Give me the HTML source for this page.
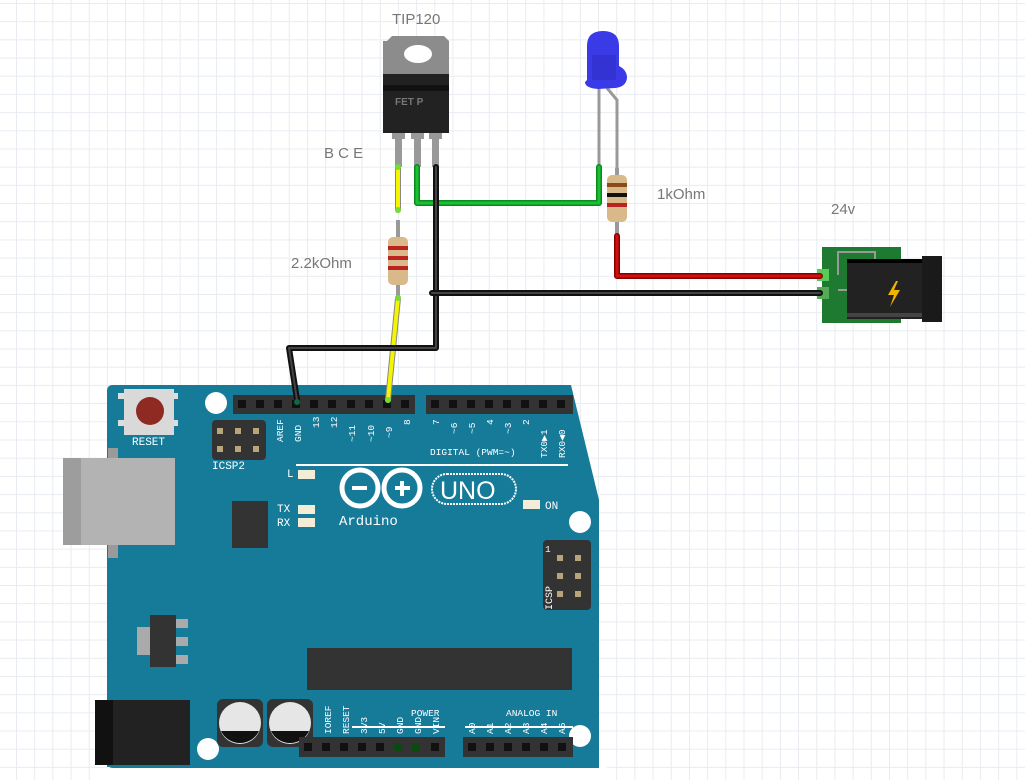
<!DOCTYPE html>
<html><head><style>
html,body{margin:0;padding:0;}
body{width:1025px;height:780px;overflow:hidden;background:#fff;
background-image:linear-gradient(to right,#e8ecf1 1px,transparent 1px),linear-gradient(to bottom,#e8ecf1 1px,transparent 1px);
background-size:18.2px 18.2px;background-position:16px 3px;}
svg{position:absolute;left:0;top:0;}
text{font-family:"Liberation Sans",sans-serif;}
.m{font-family:"Liberation Mono",monospace;fill:#fff;font-size:9.5px;}
</style></head><body>
<svg width="1025" height="780" viewBox="0 0 1025 780">
<!-- Arduino board -->
<path d="M113 385 L571 385 L599 500 L599 780 L107 780 L107 391 Q107 385 113 385Z" fill="#167a99"/>
<rect x="107" y="767" width="500" height="13" fill="#fff"/>
<path d="M107 762 Q107 768 113 768 L599 768 L599 762Z" fill="#167a99"/>
<!-- USB -->
<rect x="108" y="448" width="10" height="110" fill="#9a9a9a"/>
<rect x="63" y="458" width="112" height="87" fill="#b3b3b3"/>
<rect x="63" y="458" width="18" height="87" fill="#9d9d9d"/>
<!-- reset -->
<rect x="118" y="393" width="6" height="6" fill="#ddd"/><rect x="118" y="420" width="6" height="6" fill="#ddd"/>
<rect x="172" y="393" width="6" height="6" fill="#ddd"/><rect x="172" y="420" width="6" height="6" fill="#ddd"/>
<rect x="124" y="389" width="50" height="46" fill="#d9d9d9"/>
<circle cx="150" cy="411" r="14" fill="#8e2a22"/>
<text x="132" y="445" class="m" style="font-size:11px">RESET</text>
<!-- ICSP2 -->
<rect x="212" y="420" width="54" height="40" rx="4" fill="#333"/>
<g fill="#b8a57a"><rect x="217" y="428" width="6" height="6"/><rect x="235" y="428" width="6" height="6"/><rect x="253" y="428" width="6" height="6"/><rect x="217" y="446" width="6" height="6"/><rect x="235" y="446" width="6" height="6"/><rect x="253" y="446" width="6" height="6"/></g>
<text x="212" y="469" class="m" style="font-size:11px">ICSP2</text>
<!-- holes -->
<g fill="#fff"><circle cx="216" cy="403" r="11"/><circle cx="580" cy="522" r="11"/><circle cx="580" cy="736" r="11"/><circle cx="208" cy="749" r="11"/></g>
<!-- headers -->
<rect x="233" y="395" width="182" height="19" fill="#333"/>
<rect x="426" y="395" width="147" height="19" fill="#333"/>
<g fill="#111">
<rect x="238" y="400" width="8" height="8"/><rect x="256" y="400" width="8" height="8"/><rect x="274" y="400" width="8" height="8"/><rect x="292" y="400" width="8" height="8"/><rect x="310" y="400" width="8" height="8"/><rect x="328" y="400" width="8" height="8"/><rect x="347" y="400" width="8" height="8"/><rect x="365" y="400" width="8" height="8"/><rect x="383" y="400" width="8" height="8"/><rect x="401" y="400" width="8" height="8"/>
<rect x="431" y="400" width="8" height="8"/><rect x="449" y="400" width="8" height="8"/><rect x="467" y="400" width="8" height="8"/><rect x="485" y="400" width="8" height="8"/><rect x="503" y="400" width="8" height="8"/><rect x="521" y="400" width="8" height="8"/><rect x="539" y="400" width="8" height="8"/><rect x="557" y="400" width="8" height="8"/>
</g>
<g>
<text transform="translate(283,442) rotate(-90)" class="m">AREF</text>
<text transform="translate(301,442) rotate(-90)" class="m">GND</text>
<text transform="translate(319,428) rotate(-90)" class="m">13</text>
<text transform="translate(337,428) rotate(-90)" class="m">12</text>
<text transform="translate(355,442) rotate(-90)" class="m">~11</text>
<text transform="translate(374,442) rotate(-90)" class="m">~10</text>
<text transform="translate(392,438) rotate(-90)" class="m">~9</text>
<text transform="translate(410,425) rotate(-90)" class="m">8</text>
<text transform="translate(439,425) rotate(-90)" class="m">7</text>
<text transform="translate(457,434) rotate(-90)" class="m">~6</text>
<text transform="translate(475,434) rotate(-90)" class="m">~5</text>
<text transform="translate(493,425) rotate(-90)" class="m">4</text>
<text transform="translate(511,434) rotate(-90)" class="m">~3</text>
<text transform="translate(529,425) rotate(-90)" class="m">2</text>
<text transform="translate(547,458) rotate(-90)" class="m">TX0▶1</text>
<text transform="translate(565,458) rotate(-90)" class="m">RX0◀0</text>
</g>
<text x="430" y="455" class="m">DIGITAL (PWM=~)</text>
<rect x="296" y="464" width="272" height="2" fill="#fff"/>
<!-- LEDs -->
<text x="287" y="477" class="m" style="font-size:11px">L</text>
<text x="277" y="512" class="m" style="font-size:11px">TX</text>
<text x="277" y="526" class="m" style="font-size:11px">RX</text>
<g fill="#f3ecd6"><rect x="298" y="470" width="17" height="9"/><rect x="298" y="505" width="17" height="9"/><rect x="298" y="518" width="17" height="9"/><rect x="523" y="500" width="17" height="9"/></g>
<text x="545" y="509" class="m" style="font-size:11px">ON</text>
<!-- logo -->
<g fill="none" stroke="#fff" stroke-width="5"><circle cx="360" cy="488" r="18"/><circle cx="402" cy="488" r="18"/></g>
<rect x="352" y="486" width="15" height="4" fill="#fff"/><rect x="395" y="486" width="15" height="4" fill="#fff"/><rect x="400" y="481" width="4" height="15" fill="#fff"/>
<rect x="432" y="474" width="84" height="30" rx="15" fill="none" stroke="#fff" stroke-width="2" stroke-dasharray="2 1"/>
<text x="440" y="499" fill="#fff" style="font-size:25px">UNO</text>
<text x="339" y="525" class="m" style="font-size:14px">Arduino</text>
<!-- chips -->
<rect x="232" y="501" width="36" height="47" fill="#333"/>
<rect x="307" y="648" width="265" height="42" fill="#333"/>
<!-- ICSP -->
<rect x="543" y="540" width="48" height="70" rx="4" fill="#333"/>
<g fill="#b8a57a"><rect x="557" y="555" width="6" height="6"/><rect x="575" y="555" width="6" height="6"/><rect x="557" y="573" width="6" height="6"/><rect x="575" y="573" width="6" height="6"/><rect x="557" y="591" width="6" height="6"/><rect x="575" y="591" width="6" height="6"/></g>
<text x="545" y="552" class="m">1</text>
<text transform="translate(552,610) rotate(-90)" class="m" style="font-size:10px">ICSP</text>
<!-- regulator -->
<rect x="137" y="627" width="15" height="28" fill="#aaa"/>
<rect x="175" y="619" width="13" height="9" fill="#aaa"/><rect x="175" y="637" width="13" height="9" fill="#aaa"/><rect x="175" y="655" width="13" height="9" fill="#aaa"/>
<rect x="150" y="615" width="26" height="52" fill="#333"/>
<!-- power jack -->
<rect x="95" y="700" width="95" height="65" fill="#222"/>
<rect x="95" y="700" width="18" height="65" fill="#111"/>
<!-- caps -->
<rect x="217" y="699" width="46" height="48" rx="6" fill="#333"/><rect x="267" y="699" width="46" height="48" rx="6" fill="#333"/>
<circle cx="240" cy="723" r="21" fill="#e6e6e6"/><circle cx="290" cy="723" r="21" fill="#e6e6e6"/>
<path d="M221 731 A21 21 0 0 0 259 731Z" fill="#111"/><path d="M271 731 A21 21 0 0 0 309 731Z" fill="#111"/>
<!-- bottom headers -->
<rect x="299" y="737" width="146" height="20" fill="#333"/>
<rect x="463" y="737" width="110" height="20" fill="#333"/>
<g fill="#111">
<rect x="304" y="743" width="8" height="8"/><rect x="322" y="743" width="8" height="8"/><rect x="340" y="743" width="8" height="8"/><rect x="358" y="743" width="8" height="8"/><rect x="376" y="743" width="8" height="8"/><rect x="431" y="743" width="8" height="8"/>
<rect x="468" y="743" width="8" height="8"/><rect x="486" y="743" width="8" height="8"/><rect x="504" y="743" width="8" height="8"/><rect x="522" y="743" width="8" height="8"/><rect x="540" y="743" width="8" height="8"/><rect x="558" y="743" width="8" height="8"/>
</g>
<g fill="#0a4a10"><rect x="394" y="743" width="8" height="8"/><rect x="412" y="743" width="8" height="8"/></g>
<rect x="352" y="726" width="93" height="2" fill="#fff"/><rect x="465" y="726" width="108" height="2" fill="#fff"/>
<text x="411" y="716" class="m">POWER</text>
<text x="506" y="716" class="m">ANALOG IN</text>
<g>
<text transform="translate(331,734) rotate(-90)" class="m">IOREF</text>
<text transform="translate(349,734) rotate(-90)" class="m">RESET</text>
<text transform="translate(367,734) rotate(-90)" class="m">3V3</text>
<text transform="translate(385,734) rotate(-90)" class="m">5V</text>
<text transform="translate(403,734) rotate(-90)" class="m">GND</text>
<text transform="translate(421,734) rotate(-90)" class="m">GND</text>
<text transform="translate(439,734) rotate(-90)" class="m">VIN</text>
<text transform="translate(475,734) rotate(-90)" class="m">A0</text>
<text transform="translate(493,734) rotate(-90)" class="m">A1</text>
<text transform="translate(511,734) rotate(-90)" class="m">A2</text>
<text transform="translate(529,734) rotate(-90)" class="m">A3</text>
<text transform="translate(547,734) rotate(-90)" class="m">A4</text>
<text transform="translate(565,734) rotate(-90)" class="m">A5</text>
</g>

<!-- Transistor -->
<text x="392" y="24" fill="#777" style="font-size:15px">TIP120</text>
<path d="M387 41 L392 36 L444 36 L449 41 L449 75 L383 75 L383 41Z" fill="#8c8c8c"/>
<ellipse cx="418" cy="54" rx="14" ry="9" fill="#fff"/>
<rect x="383" y="74" width="66" height="59" fill="#222"/>
<rect x="383" y="85" width="66" height="6" fill="#111"/>
<text x="395" y="105" fill="#777" style="font-size:10px;font-weight:bold">FET P</text>
<g fill="#999"><rect x="395" y="133" width="7" height="34"/><rect x="414" y="133" width="7" height="34"/><rect x="432" y="133" width="7" height="34"/>
<rect x="392" y="133" width="13" height="6"/><rect x="411" y="133" width="13" height="6"/><rect x="429" y="133" width="13" height="6"/></g>
<text x="324" y="158" fill="#777" style="font-size:15px">B C E</text>
<!-- LED -->
<path d="M599 88 V167 M607 88 L617 100 V175" stroke="#999" stroke-width="3" fill="none"/>
<path d="M587 80 L587 46 Q587 31 603 31 Q619 31 619 46 L619 66 Q627 70 627 78 Q626 87 615 88 L598 89 Q585 88 585 82Z" fill="#3a3ae6"/>
<path d="M592 55 H616 V80 H592Z" fill="#2c2cbf" opacity=".5"/>
<!-- resistors -->
<rect x="396" y="220" width="4" height="80" fill="#999"/>
<rect x="388" y="237" width="20" height="48" rx="5" fill="#d9b98a"/>
<g fill="#b22"><rect x="388" y="246" width="20" height="4"/><rect x="388" y="256" width="20" height="4"/><rect x="388" y="266" width="20" height="4"/></g>
<rect x="615" y="168" width="4" height="70" fill="#999"/>
<rect x="607" y="175" width="20" height="47" rx="5" fill="#d9b98a"/>
<rect x="607" y="183" width="20" height="4" fill="#8a4a1a"/><rect x="607" y="193" width="20" height="4" fill="#111"/><rect x="607" y="203" width="20" height="4" fill="#b22"/>
<text x="291" y="268" fill="#777" style="font-size:15px">2.2kOhm</text>
<text x="657" y="199" fill="#777" style="font-size:15px">1kOhm</text>
<text x="831" y="214" fill="#777" style="font-size:15px">24v</text>
<!-- DC jack -->
<rect x="822" y="247" width="79" height="76" fill="#1e7a30"/>
<path d="M838 275 V252 H875 V262 M838 290 H847" stroke="#999" stroke-width="2" fill="none"/>
<rect x="847" y="259" width="77" height="60" fill="#222"/>
<rect x="847" y="259" width="77" height="4" fill="#000"/><rect x="847" y="313" width="77" height="4" fill="#444"/>
<rect x="922" y="256" width="20" height="66" fill="#1a1a1a"/>
<path d="M896 281 L888 295 H894 L890 307 L900 290 H894 L898 281Z" fill="#f0b400"/>
<rect x="817" y="269" width="12" height="12" fill="#5c5"/>
<rect x="817" y="287" width="12" height="12" fill="#5a5"/>
<!-- wires -->
<g fill="none" stroke-linejoin="round" stroke-linecap="round">
<path d="M398 167 V210" stroke="#888" stroke-width="6"/><path d="M398 167 V210" stroke="#f5f500" stroke-width="4"/>
<path d="M398 298 L388 400" stroke="#888" stroke-width="6"/><path d="M398 298 L388 400" stroke="#f5f500" stroke-width="4"/>
<path d="M417 167 V203 H599 V167" stroke="#0a8a20" stroke-width="6"/><path d="M417 167 V203 H599 V167" stroke="#1bc030" stroke-width="3"/>
<path d="M436 167 V348 H289 L297 400" stroke="#111" stroke-width="6"/><path d="M436 167 V348 H289 L297 400" stroke="#444" stroke-width="2"/>
<path d="M432 293 H820" stroke="#111" stroke-width="6"/><path d="M432 293 H820" stroke="#444" stroke-width="2"/>
<path d="M617 236 V276 H820" stroke="#8a0000" stroke-width="6"/><path d="M617 236 V276 H820" stroke="#d01010" stroke-width="3"/>
</g>
<g fill="#7d3"><circle cx="398" cy="167" r="3"/><circle cx="398" cy="210" r="3"/><circle cx="398" cy="298" r="3"/><circle cx="388" cy="400" r="3"/></g>
<circle cx="297" cy="402" r="3" fill="#164"/>
</svg>
</body></html>
